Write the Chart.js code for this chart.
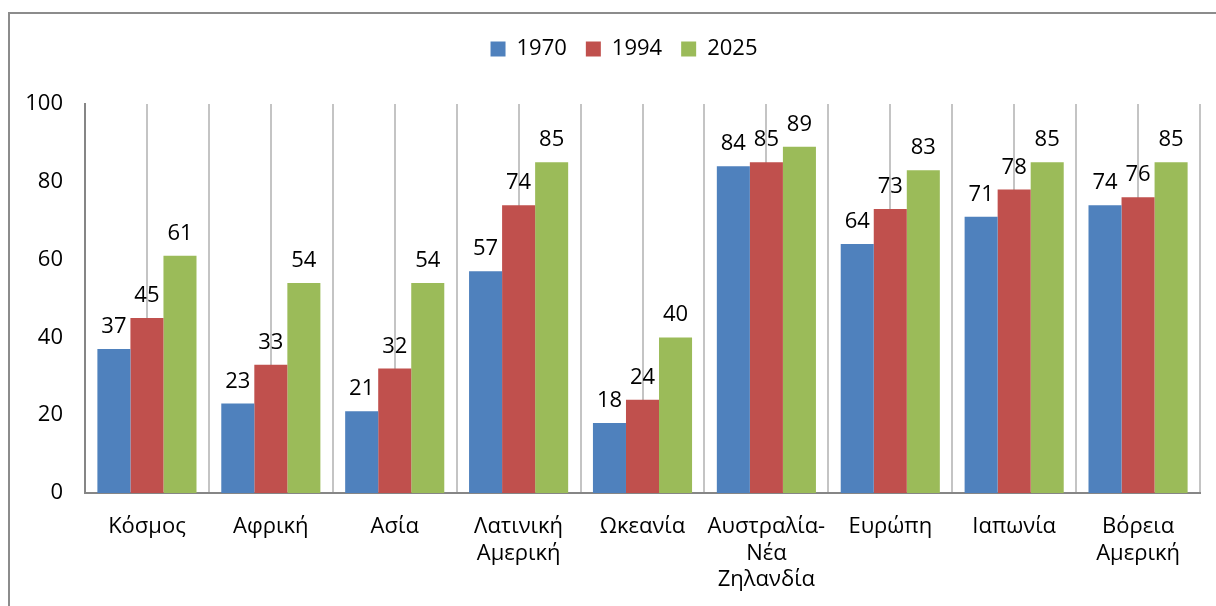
<!DOCTYPE html>
<html>
<head>
<meta charset="utf-8">
<script src="https://cdn.jsdelivr.net/npm/chart.js@4"></script>
<style>
  body { margin: 0; background: #fff; overflow: hidden; }
  .frame {
    position: absolute; left: 8px; top: 12px;
    width: 1300px; height: 700px;
    border: 2px solid #8c8c8c;
  }
  .wrap { position: absolute; left: 0; top: 0; width: 1216px; height: 606px; }
</style>
</head>
<body>
<div class="frame"></div>
<div class="wrap"><canvas id="chart"></canvas></div>
<script>
// categories and series
const regions = [
  "Κόσμος",
  "Αφρική",
  "Ασία",
  ["Λατινική", "Αμερική"],
  "Ωκεανία",
  ["Αυστραλία-", "Νέα", "Ζηλανδία"],
  "Ευρώπη",
  "Ιαπωνία",
  ["Βόρεια", "Αμερική"],
];
const years = ["1970", "1994", "2025"];
const values1970 = [37, 23, 21, 57, 18, 84, 64, 71, 74];
const values1994 = [45, 33, 32, 74, 24, 85, 73, 78, 76];
const values2025 = [61, 54, 54, 85, 40, 89, 83, 85, 85];
const yTicks = [0, 20, 40, 60, 80, 100];

const FONT = "'Open Sans', 'Noto Sans', sans-serif";

// value labels above each bar
const barLabels = {
  id: "barLabels",
  afterDatasetsDraw(chart) {
    const ctx = chart.ctx;
    ctx.save();
    ctx.font = "22px " + FONT;
    ctx.fillStyle = "#000";
    ctx.textAlign = "center";
    ctx.textBaseline = "alphabetic";
    chart.data.datasets.forEach((ds, i) => {
      chart.getDatasetMeta(i).data.forEach((bar, j) => {
        ctx.fillText(String(ds.data[j]), bar.x, bar.y - 16);
      });
    });
    ctx.restore();
  },
};

// legend sits a little right of the canvas centre in the original
const legendShift = {
  id: "legendShift",
  afterLayout(chart) {
    chart.legend.left += 24;
    chart.legend.right += 24;
  },
};

new Chart(document.getElementById("chart"), {
  type: "bar",
  data: {
    labels: regions,
    datasets: [
      { label: years[0], data: values1970, backgroundColor: "#4f81bd" },
      { label: years[1], data: values1994, backgroundColor: "#c0504d" },
      { label: years[2], data: values2025, backgroundColor: "#9bbb59" },
    ],
  },
  options: {
    responsive: true,
    maintainAspectRatio: false,
    animation: false,
    layout: { padding: { left: 0, right: 16, top: 19, bottom: 0 } },
    datasets: {
      bar: { categoryPercentage: 0.8, barPercentage: 1.0 },
    },
    scales: {
      x: {
        offset: true,
        afterFit: (scale) => {
          scale.height = 113;
        },
        grid: { offset: true, color: "#c4c4c4", lineWidth: 2, drawTicks: false },
        border: { color: "#868686", width: 2 },
        ticks: {
          color: "#000",
          font: { family: FONT, size: 22, lineHeight: 1.22 },
          padding: 20,
          maxRotation: 0,
          autoSkip: false,
        },
      },
      x2: {
        type: "category",
        position: "top",
        offset: true,
        afterFit: (scale) => {
          scale.height = 34;
        },
        grid: { offset: false, color: "#c4c4c4", lineWidth: 2, drawTicks: false },
        border: { display: false },
        ticks: { display: false },
      },
      y: {
        min: 0,
        max: 100,
        afterBuildTicks: (scale) => {
          scale.ticks = yTicks.map((v) => ({ value: v }));
        },
        afterFit: (scale) => {
          scale.width = 85;
        },
        grid: { display: false, drawTicks: false },
        border: { color: "#868686", width: 2 },
        ticks: {
          color: "#000",
          font: { family: FONT, size: 22 },
          padding: 22,
        },
      },
    },
    plugins: {
      legend: {
        position: "top",
        labels: {
          color: "#000",
          font: { family: FONT, size: 22 },
          boxWidth: 15,
          boxHeight: 15,
          padding: 19,
        },
      },
      tooltip: { enabled: false },
    },
  },
  plugins: [barLabels, legendShift],
});
</script>
</body>
</html>
